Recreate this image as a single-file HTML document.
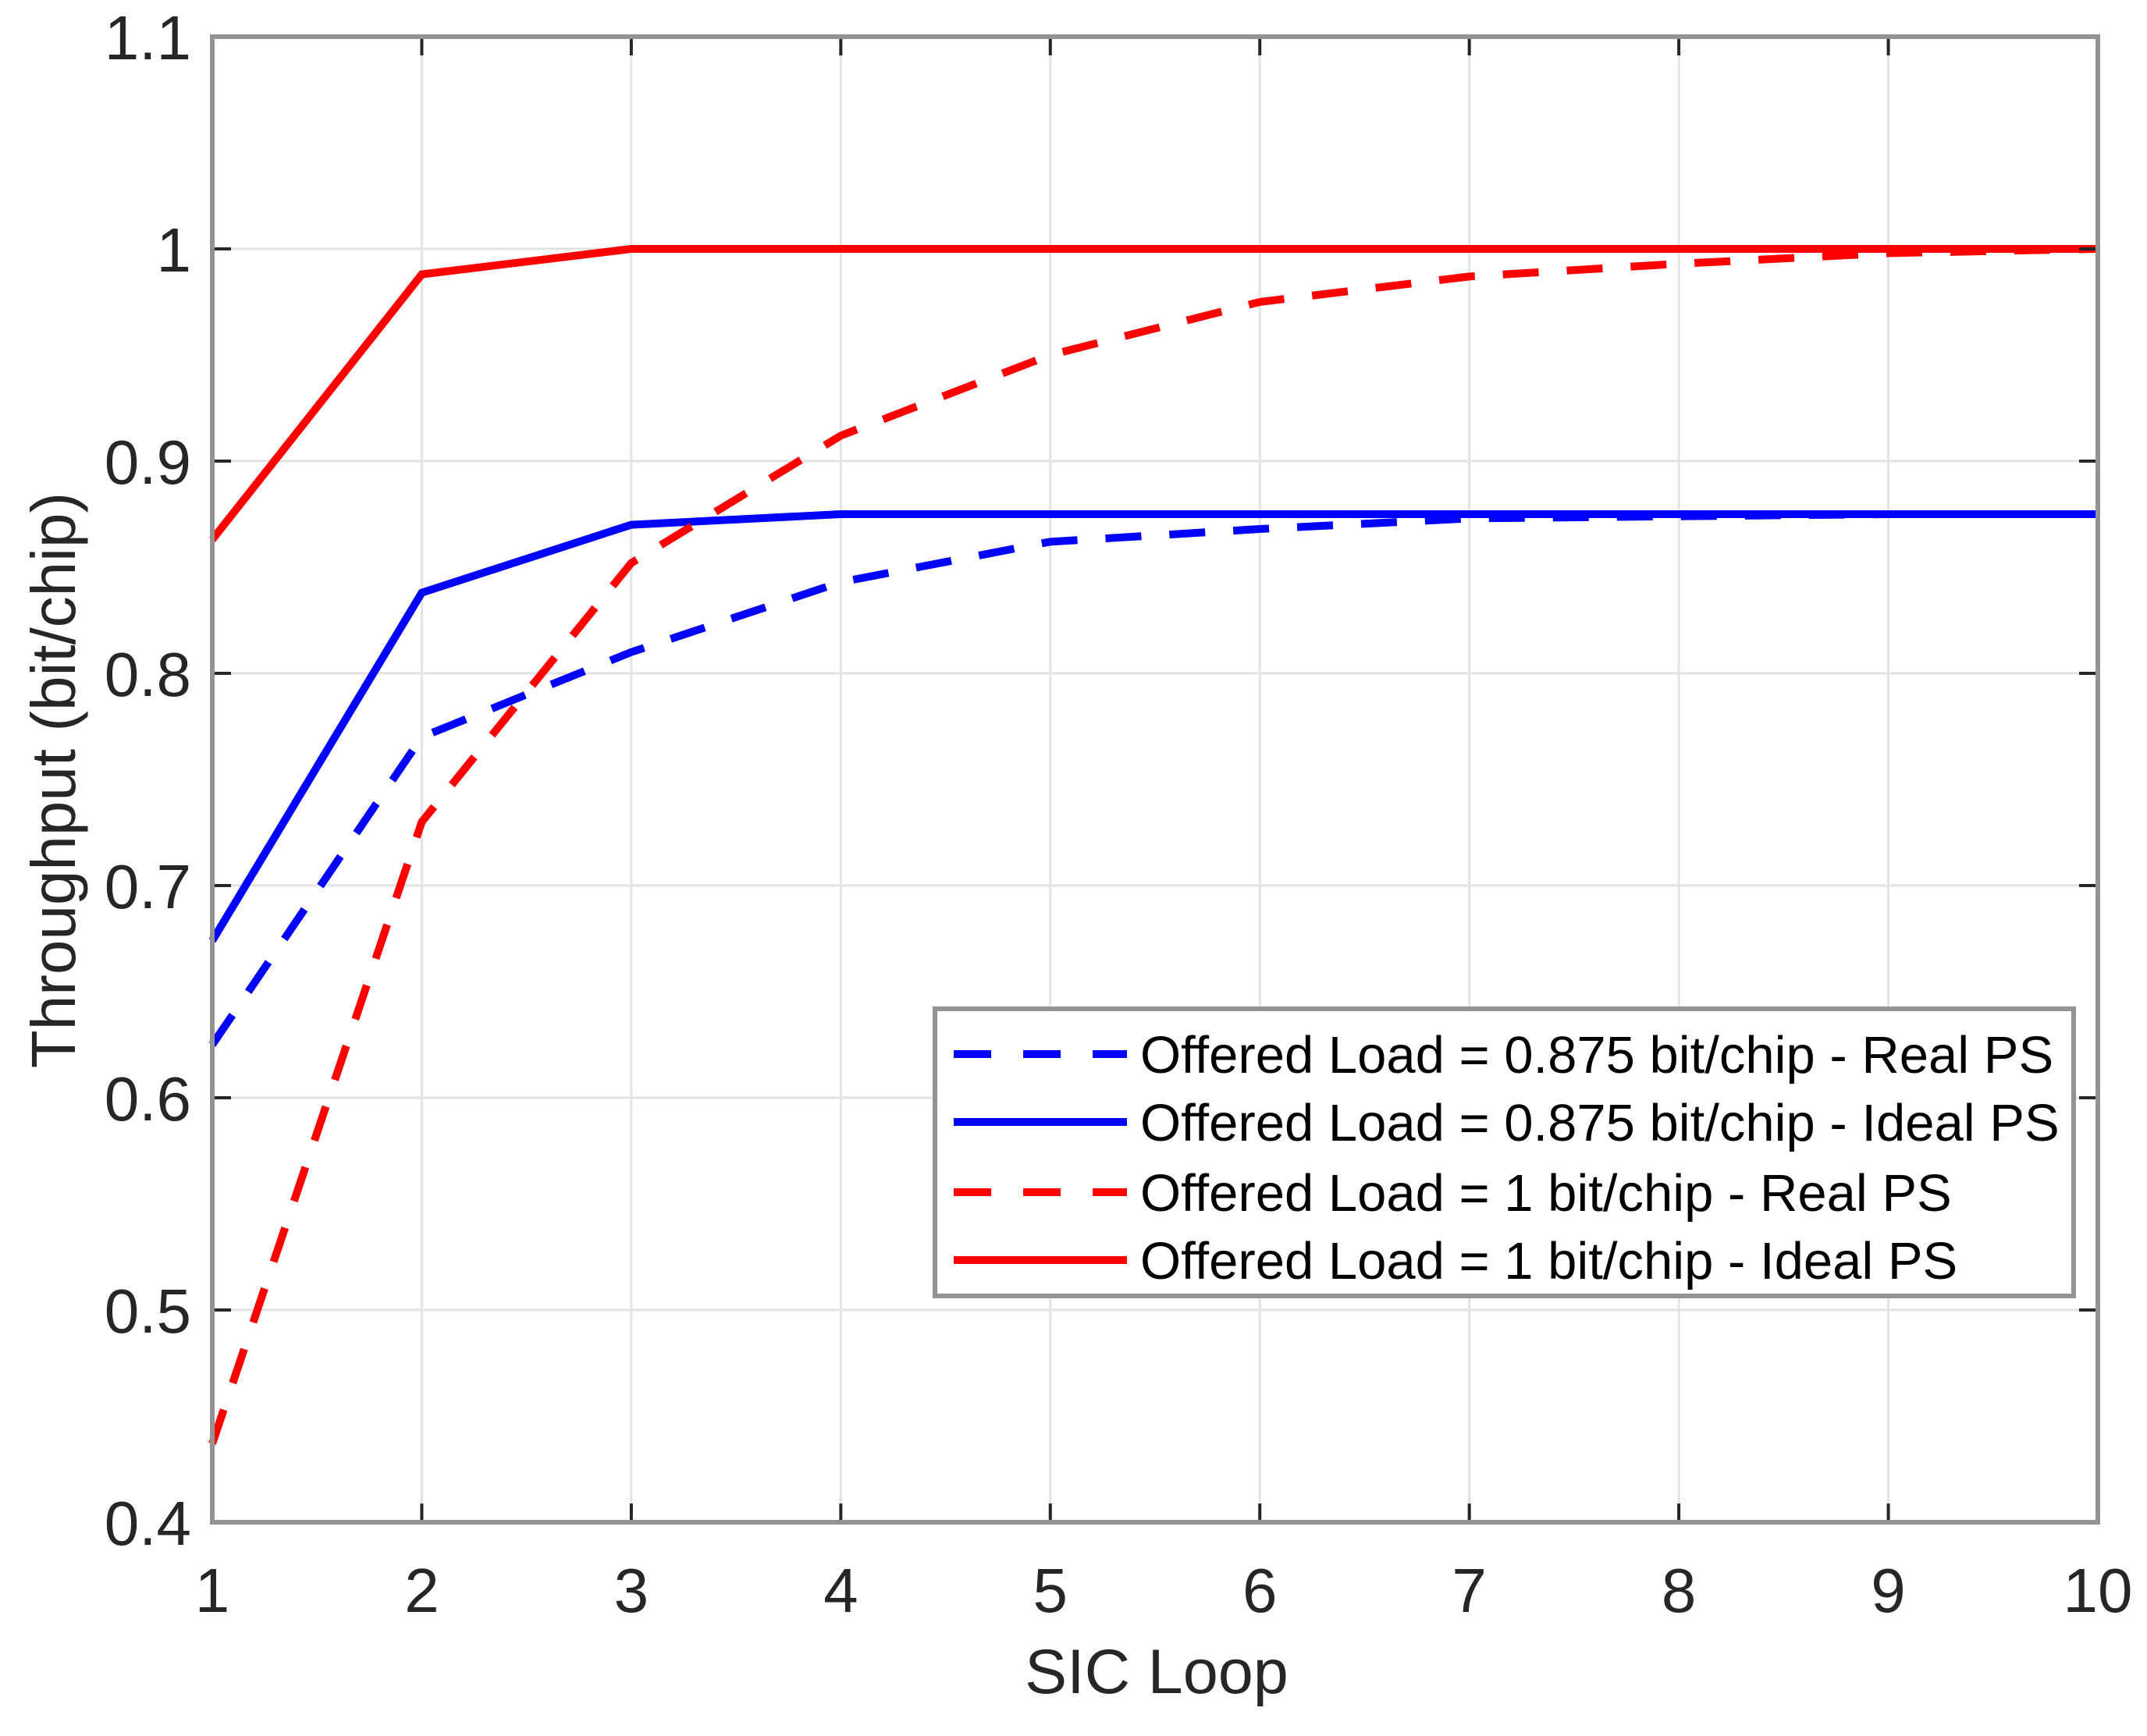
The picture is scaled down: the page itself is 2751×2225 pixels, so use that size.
<!DOCTYPE html>
<html><head><meta charset="utf-8"><style>html,body{margin:0;padding:0;background:#fff}svg{display:block}</style></head>
<body>
<svg id="chart" width="2751" height="2225" xmlns="http://www.w3.org/2000/svg" font-family="Liberation Sans, Arial, sans-serif">
<rect width="2751" height="2225" fill="#fff"/>
<g id="grid"></g>
<g id="series"></g>
<g id="axes"></g>
<text x="1482" y="2170" font-size="81" text-anchor="middle" fill="#262626">SIC Loop</text>
<text transform="translate(96,1000) rotate(-90)" font-size="80" text-anchor="middle" fill="#262626">Throughput (bit/chip)</text>
<g id="legend"></g>
</svg>
<script>
const xs = [1,2,3,4,5,6,7,8,9,10];
const blueReal = [0.625,0.770,0.810,0.843,0.862,0.868,0.873,0.874,0.875,0.875];
const blueIdeal = [0.674,0.838,0.870,0.875,0.875,0.875,0.875,0.875,0.875,0.875];
const redReal = [0.437,0.730,0.852,0.912,0.950,0.975,0.987,0.993,0.998,1.000];
const redIdeal = [0.863,0.988,1.000,1.000,1.000,1.000,1.000,1.000,1.000,1.000];
const xTicks = [1,2,3,4,5,6,7,8,9,10];
const yTicks = [0.4,0.5,0.6,0.7,0.8,0.9,1,1.1];
const yTickLabels = ["0.4","0.5","0.6","0.7","0.8","0.9","1","1.1"];
const legendLabels = ["Offered Load = 0.875 bit/chip - Real PS","Offered Load = 0.875 bit/chip - Ideal PS","Offered Load = 1 bit/chip - Real PS","Offered Load = 1 bit/chip - Ideal PS"];

const L=272,R=2688,T=47,B=1951;
const X=v=>L+(v-1)/(10-1)*(R-L);
const Y=v=>B-(v-0.4)/(1.1-0.4)*(B-T);
const NS="http://www.w3.org/2000/svg";
function mk(tag,attrs,parent){const e=document.createElementNS(NS,tag);for(const k in attrs)e.setAttribute(k,attrs[k]);parent.appendChild(e);return e;}
const grid=document.getElementById('grid'),axes=document.getElementById('axes'),ser=document.getElementById('series'),leg=document.getElementById('legend');
xTicks.forEach(t=>{
  const g=mk('line',{x1:X(t),x2:X(t),y1:T,y2:B,stroke:'#e3e3e3','stroke-width':3},grid);
  
  
  const tk=mk('line',{x1:X(t),x2:X(t),y1:B,y2:B-24,stroke:'#262626','stroke-width':4},axes);
  
  
  const tk2=mk('line',{x1:X(t),x2:X(t),y1:T,y2:T+24,stroke:'#262626','stroke-width':4},axes);
  
  
  const tx=mk('text',{x:X(t),y:2066,'font-size':80,'text-anchor':'middle',fill:'#262626'},axes);
  
  
  tx.textContent=String(t);
});
yTicks.forEach((t,i)=>{
  const g=mk('line',{x1:L,x2:R,y1:Y(t),y2:Y(t),stroke:'#e3e3e3','stroke-width':3},grid);
  
  
  const tk=mk('line',{x1:L,x2:L+24,y1:Y(t),y2:Y(t),stroke:'#262626','stroke-width':4},axes);
  
  
  const tk2=mk('line',{x1:R,x2:R-24,y1:Y(t),y2:Y(t),stroke:'#262626','stroke-width':4},axes);
  
  
  const tx=mk('text',{x:245,y:Y(t)+29,'font-size':80,'text-anchor':'end',fill:'#262626'},axes);
  
  
  tx.textContent=yTickLabels[i];
});
const frame=mk('rect',{x:L,y:T,width:R-L,height:B-T,fill:'none',stroke:'#939393','stroke-width':6},axes);


const series=[[blueReal,'#0000ff',true,'line-0875-real'],[blueIdeal,'#0000ff',false,'line-0875-ideal'],[redReal,'#ff0000',true,'line-1-real'],[redIdeal,'#ff0000',false,'line-1-ideal']];
series.forEach(([vals,c,dash,name])=>{
  const p=mk('polyline',{points:xs.map((x,i)=>X(x)+','+Y(vals[i])).join(' '),fill:'none',stroke:c,'stroke-width':10,'stroke-linejoin':'miter','stroke-dasharray':dash?'46 36':'none'},ser);
  
  
});
const box=mk('rect',{x:1198,y:1293,width:1459,height:368,fill:'#fff',stroke:'#939393','stroke-width':6},leg);


const rowsY=[1351,1438,1528,1615];
series.forEach(([v,c,dash,name],i)=>{
  const ln=mk('line',{x1:1222,x2:1444,y1:rowsY[i],y2:rowsY[i],stroke:c,'stroke-width':10,'stroke-dasharray':dash?'48 41':'none'},leg);
  
  
  const tx=mk('text',{x:1461,y:rowsY[i]+24,'font-size':67,fill:'#000'},leg);
  
  
  tx.textContent=legendLabels[i];
});
</script>
</body></html>
